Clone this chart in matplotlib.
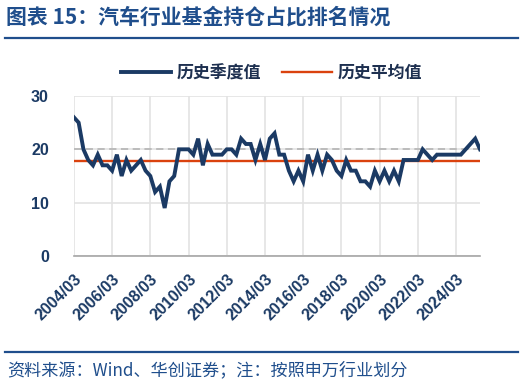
import numpy as np
import matplotlib
matplotlib.use('Agg')
import matplotlib.pyplot as plt
from matplotlib.lines import Line2D

plt.rcParams['font.family'] = ['Noto Sans CJK SC', 'DejaVu Sans']

# 汽车行业基金持仓占比排名, 2004Q1 - 2025Q2
quarters = [f'{y}/{m:02d}' for y in range(2004, 2026) for m in (3, 6, 9, 12)][:86]
rank = [26, 25, 20, 18, 17, 19, 17, 17, 16, 19,
        15, 18, 16, 17, 18, 16, 15, 12, 13, 9,
        14, 15, 20, 20, 20, 19, 22, 17, 21, 19,
        19, 19, 20, 20, 19, 22, 21, 21, 18, 21,
        18, 22, 23, 19, 19, 16, 14, 16, 14, 19,
        16, 19, 16, 19, 18, 16, 15, 18, 16, 16,
        14, 14, 13, 16, 14, 16, 14, 16, 14, 18,
        18, 18, 18, 20, 19, 18, 19, 19, 19, 19,
        19, 19, 20, 21, 22, 20]
ref_level = 20
avg_rank = np.mean(rank)

navy = '#1B3A64'
orange = '#DA420E'
title_col = '#1F4E8C'

fig = plt.figure(figsize=(5.24, 3.87), dpi=100)
ax = fig.add_axes([0.141, 0.3385, 0.775, 0.4135])

x = np.arange(len(rank))
ax.plot(x, rank, color=navy, lw=2.8, solid_joinstyle='miter', zorder=4)
ax.axhline(avg_rank, color=orange, lw=1.7, zorder=3)
ax.axhline(ref_level, color='#B8B8B8', lw=1.3, ls=(0, (4, 2.5)), zorder=2)

ax.set_xlim(0, len(rank) - 1)
ax.set_ylim(0, 30)
ax.set_yticks([0, 10, 20, 30])
tick_pos = x[::8]
ax.set_xticks(tick_pos)
ax.set_xticklabels([quarters[i] for i in tick_pos], rotation=45, ha='right',
                   rotation_mode='anchor')
ax.grid(True, color='#E3E3E3', lw=1.2)
ax.set_axisbelow(True)
for s in ['top', 'right', 'left']:
    ax.spines[s].set_visible(False)
ax.spines['bottom'].set_color('#A6A6A6')
ax.spines['bottom'].set_linewidth(1.2)
ax.tick_params(length=0)
ax.tick_params(axis='y', pad=18)
ax.tick_params(axis='x', pad=11)
for lab in ax.get_yticklabels() + ax.get_xticklabels():
    lab.set_fontweight('bold')
    lab.set_fontsize(11.5)
    lab.set_color(navy)
    lab.set_family(['Liberation Sans', 'DejaVu Sans'])

handles = [Line2D([], [], color=navy, lw=2.8), Line2D([], [], color=orange, lw=1.7)]
leg = fig.legend(handles, ['历史季度值', '历史平均值'], loc='center',
                 bbox_to_anchor=(0.518, 0.811), ncol=2, frameon=False,
                 handlelength=2.95, columnspacing=1.25, handletextpad=0.35,
                 prop={'weight': 'bold', 'size': 12.2})
for t in leg.get_texts():
    t.set_color('#1E3050')

fig.text(0.012, 0.956, '图表 15：汽车行业基金持仓占比排名情况', fontsize=15,
         fontweight='bold', color=title_col, va='center', ha='left')
fig.add_artist(Line2D([0.01, 0.988], [0.902, 0.902], color=title_col, lw=1.6))
fig.add_artist(Line2D([0.01, 0.988], [0.09, 0.09], color=title_col, lw=1.6))
fig.text(0.014, 0.044, '资料来源：Wind、华创证券；注：按照申万行业划分', fontsize=12.3,
         style='italic', color=title_col, va='center', ha='left')

fig.savefig('out.png', dpi=100)
